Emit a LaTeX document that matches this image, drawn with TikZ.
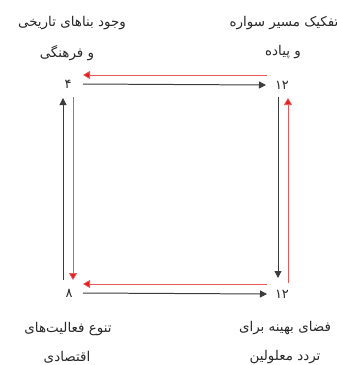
\documentclass[tikz,border=0pt]{standalone}
\usepackage{fontspec}
\newfontfamily\arabicfont[Script=Arabic]{DejaVu Sans}
\TeXXeTstate=1
\usetikzlibrary{arrows.meta,positioning,calc}
\definecolor{ink}{RGB}{60,60,60}
\definecolor{cRed}{RGB}{230,30,30}
\definecolor{txt}{RGB}{40,40,40}
\tikzset{
  num/.style={font=\arabicfont\fontsize{13}{15}\selectfont,text=txt,inner sep=1pt},
  lbl/.style={font=\arabicfont\fontsize{13.5}{16}\selectfont,text=txt,inner sep=1pt},
  blk/.style={draw=ink,line width=1pt,-{Triangle[length=7bp,width=7bp]}},
  rd/.style={draw=cRed!75,line width=0.7pt,-{Triangle[length=7bp,width=8bp,fill=cRed]}},
}
\newcommand{\fa}[1]{\beginR #1\endR}

\begin{document}
\begin{tikzpicture}[x=1bp,y=-1bp]
  \useasboundingbox (0,0) rectangle (337,365);
  % corner values
  \node[num] (tl) at (68,84) {۴};
  \node[num] (tr) at (282,85) {۱۲};
  \node[num] (bl) at (69,293) {۸};
  \node[num] (br) at (282,294) {۱۲};

  % captions
  \node[lbl] (tlA) at (72,23) {\fa{وجود بناهای تاریخی}};
  \node[lbl] (tlB) at (67,53) {\fa{و فرهنگی}};
  \node[lbl] (trA) at (284,23) {\fa{تفکیک مسیر سواره}};
  \node[lbl] (trB) at (283,52) {\fa{و پیاده}};
  \node[lbl] (blA) at (68,329) {\fa{تنوع فعالیت‌های}};
  \node[lbl] (blB) at (67,357) {\fa{اقتصادی}};
  \node[lbl] (brA) at (285,328) {\fa{فضای بهینه برای}};
  \node[lbl] (brB) at (285,357) {\fa{تردد معلولین}};

  % black loop (clockwise)
  \draw[blk] ([shift={(15,0)}]tl.center) -- ([shift={(-16,0)}]tr.center);
  \draw[blk] ([shift={(-4,12)}]tr.center) -- ([shift={(-4,-16)}]br.center);
  \draw[blk] ([shift={(14,0)}]bl.center) -- ([shift={(-15,0)}]br.center);
  \draw[blk] ([shift={(-6,-13)}]bl.center) -- ([shift={(-5,14)}]tl.center);

  % red loop (counter-clockwise)
  \draw[rd] ([shift={(-15,-10)}]tr.center) -- ([shift={(15,-9)}]tl.center);
  \draw[rd] ([shift={(5,13)}]tl.center) -- ([shift={(4,-13)}]bl.center);
  \draw[rd] ([shift={(-15,-10)}]br.center) -- ([shift={(14,-9)}]bl.center);
  \draw[rd] ([shift={(6,-11)}]br.center) -- ([shift={(6,13)}]tr.center);
\end{tikzpicture}
\end{document}
